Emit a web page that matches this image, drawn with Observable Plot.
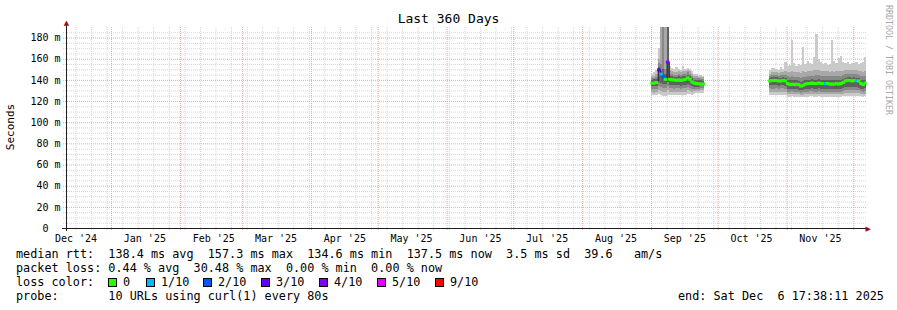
<!DOCTYPE html>
<html><head><meta charset="utf-8">
<script src="https://cdn.jsdelivr.net/npm/d3@7"></script>
<script src="https://cdn.jsdelivr.net/npm/@observablehq/plot@0.6"></script>
<style>
html,body{margin:0;padding:0;background:#fff;}
#wrap{position:relative;width:897px;height:310px;overflow:hidden;font-family:"DejaVu Sans Mono",monospace;color:#000;}
#wrap svg{position:absolute;left:0;top:0;}
.t{position:absolute;white-space:pre;line-height:14px;font-size:11.8px;}
.sw{position:absolute;width:7px;height:7px;border:1px solid #000;}
</style></head><body><div id="wrap"></div>
<script>
// ---------- texts ----------
const titleText = "Last 360 Days";
const yLabel = "Seconds";
const watermark = "RRDTOOL / TOBI OETIKER";
const legendRtt = "median rtt:  138.4 ms avg  157.3 ms max  134.6 ms min  137.5 ms now  3.5 ms sd  39.6   am/s";
const legendLoss = "packet loss: 0.44 % avg  30.48 % max  0.00 % min  0.00 % now";
const legendLossColor = "loss color:";
const legendProbe = "probe:       10 URLs using curl(1) every 80s";
const legendEnd = "end: Sat Dec  6 17:38:11 2025";
const lossLabels = ["0", "1/10", "2/10", "3/10", "4/10", "5/10", "9/10"];
const lossColors = ["#26ff00", "#00b8ff", "#0059ff", "#5e00ff", "#7e00ff", "#dd00ff", "#ff0000"];
const lossTenthsKeys = [0, 1, 2, 3, 4, 5, 9];

// ---------- axes ----------
const START = new Date(Date.UTC(2024, 11, 11, 17, 38, 11));
const END = new Date(Date.UTC(2025, 11, 6, 17, 38, 11));
const DAY = 864e5;
const monthLabels = ["Dec '24","Jan '25","Feb '25","Mar '25","Apr '25","May '25","Jun '25","Jul '25","Aug '25","Sep '25","Oct '25","Nov '25"];
const yTicks = [0, 20, 40, 60, 80, 100, 120, 140, 160, 180];

// ---------- data: one row per day (ms) ----------
const seg1Days = d3.utcDay.range(new Date(Date.UTC(2025, 8, 1)), new Date(Date.UTC(2025, 8, 25)));   // Sep 1 - Sep 24
const seg2Days = d3.utcDay.range(new Date(Date.UTC(2025, 9, 24)), new Date(Date.UTC(2025, 11, 7)));  // Oct 24 - Dec 6
const median = [
  137.3,137.5,138,150,146,143,141,157.3,141,140.5,140.5,140,140.5,140,140.5,141,142.4,141,138.5,137.5,137,136.7,136.5,136.5,
  139.5,140,140,140,139.5,139.5,140,139.5,
  137,136,136.5,136,136.5,136,134.6,135.5,136.5,137,137,137.5,137,137,137.5,137,137,137,137,136.5,136.5,136.5,137,136.5,137,138,139.5,140,140,139.5,
  140,139.5,139.5,137,136,137.5];
const lossTenths = [
  0,0,0,3,1,2,0,4,0,0,0,0,0,0,0,0,0,0,0,0,0,0,0,0,
  0,0,0,0,0,0,0,0,
  0,0,0,0,0,0,0,0,0,0,0,0,0,0,0,0,0,1,0,0,0,0,0,0,0,0,0,0,0,0,
  0,1,0,0,0,0];
const ping1 = [
  126,125.5,126,127,126,125,125,126,126,126,125.5,126,126,125.5,126,126,127,126.5,126,127,127.5,127.5,128,128,
  126,125.5,125.5,126,125.5,126,126,125.5,
  124,124,124.5,124,124,124,123.5,124,124,124,124.5,124.5,124,124,124.5,124,124,124,124,124,124,124,124,124,124,124.5,125,125,125,125,
  125,125,125,124.5,124,124.5];
const ping2 = [
  128.5,128,128.5,130,129.5,129,128.5,130,129,129,128.5,129,129,128.5,129,129,130,129.5,129,129.5,129.5,129.5,130,130,
  129,128.5,128.5,129,128.5,129,129,128.5,
  126.5,126.5,127,126.5,126.5,126.5,126,126,126.5,126.5,127,127,126.5,126.5,127,126.5,126.5,126.5,126.5,126.5,126.5,126.5,126.5,126.5,126.5,127,127.5,127.5,127.5,127.5,
  127.5,127.5,127.5,127,126.5,127];
const ping3 = [
  131,131,131.5,134,133,132.5,132,134,132,132,131.5,132,132,131.5,132,132,133,132.5,131.5,131.5,131.5,131.5,132,132,
  132,131.5,131.5,132,131.5,132,132,131.5,
  129,129,129.5,129,129,128.5,128,128.5,129,129,129.5,129.5,129,129,129.5,129,129,129,129,128.5,128.5,128.5,129,128.5,129,129.5,130,130,130,130,
  130,130,130,129.5,129,129.5];
const ping4 = [
  134,134,134.5,138,137,136.5,136,138,135.5,135,135,135,135,134.5,135,135.5,136.5,135.5,134,133.5,133.5,133.5,134,134,
  135,135,135,135,134.5,135,135,134.5,
  131.5,131,131.5,131,131,130.5,130,130.5,131,131.5,131.5,132,131.5,131.5,132,131.5,131.5,131.5,131.5,131,131,131,131.5,131,131.5,132,133,133,133,133,
  133,133,132.5,131.5,131,132];
const ping7 = [
  140,140.5,141,152,148,150,146,190,144,143.5,143,143,143.5,143,143.5,144,145,144,141.5,140,139.5,139.5,139.5,139,
  142,142.5,142.5,142.5,142,142,142.5,142,
  140,139.5,140,139.5,139.5,139,138,139,139.5,140,140,140.5,140,140,140.5,140,140,140,140,139.5,139.5,139.5,140,139.5,140,141,142,142.5,142.5,142,
  142.5,142,142,140,139.5,140];
const ping8 = [
  141.5,142,143,156,155,190,150,195,146,145.5,145,145,145.5,145,146,146,147,146,143.5,142,141.5,141.5,141,141,
  144,144.5,145,144.5,144,144.5,144.5,144.5,
  143.5,143,144,143,143,142.5,142,143,143,143.5,144,144,144,144.5,144.5,144,144,144,144,143.5,143.5,143.5,144,143.5,144,144.5,145.5,146,145.5,145.5,
  146,145.5,145,144,143.5,144];
const ping9 = [
  143.5,144,145.5,160,195,195,195,195,149,148,147.5,147,148,147,148.5,148,149,148,145.5,144,143.5,143,142.5,142.5,
  146,147,147.5,147,146.5,147,147,148,
  147.5,147,148,147.5,147,147,146.5,148,147.5,148,148.5,148,149,149,149,148.5,148,148.5,148,147.5,148,147.5,148,148,148.5,148.5,149,149.5,149,149,
  149.5,149,148.5,148,147.5,148];
const ping10 = [
  145.5,147,149,170,195,195,195,195,153,151,150,152,150,149,153,150,151,150,148,146,145.5,145,144.5,144,
  149,151,151,150,149.5,152.5,150,157,
  153,154,178,156,153,155,154,171,155,158,156,155,162,183,160,157,155,156,154,155,178,158,156,161,163,157,156,157,155,156,
  156,157,155,156,157,162];

// ---------- build rows ----------
const days = seg1Days.concat(seg2Days);
const rows = days.map((d, i) => ({
  x1: d, x2: new Date(Math.min(+d + DAY, +END)), seg: i < seg1Days.length ? 0 : 1,
  median: median[i], loss: lossTenths[i],
  p1: ping1[i], p2: ping2[i], p3: ping3[i], p4: ping4[i],
  p7: ping7[i], p8: ping8[i], p9: ping9[i], p10: ping10[i]
}));
const colorOf = t => lossColors[lossTenthsKeys.indexOf(t)];

const labelDates = d3.utcMonth.range(new Date(Date.UTC(2024, 11, 1)), new Date(Date.UTC(2025, 11, 1)))
  .map(d => new Date(+d + 15 * DAY));
const labelMap = new Map(labelDates.map((d, i) => [+d, monthLabels[i]]));
const monthStarts = d3.utcMonth.range(START, END);
const weekStarts = d3.utcMonday.range(START, END).filter(d => d.getUTCDate() !== 1);
const yMinor = d3.range(5, 190, 5).filter(v => v % 20 !== 0);
const yMajor = d3.range(20, 190, 20);

const GRID = "#d6d6d6", MGRID = "#f0a4a4";
const chart = Plot.plot({
  width: 897, height: 245,
  marginTop: 27, marginBottom: 17, marginLeft: 66, marginRight: 31,
  style: {fontFamily: "'DejaVu Sans Mono', monospace", fontSize: "10px", background: "transparent", color: "#000", overflow: "visible"},
  x: {type: "utc", domain: [START, END]},
  y: {domain: [0, 190]},
  marks: [
    Plot.ruleY(yMinor, {stroke: GRID, strokeDasharray: "1,1", insetLeft: -3}),
    Plot.ruleX(weekStarts, {stroke: GRID, strokeDasharray: "1,1", insetBottom: -3}),
    Plot.ruleY(yMajor, {stroke: MGRID, strokeDasharray: "1,1", insetLeft: -3}),
    Plot.ruleX(monthStarts, {stroke: MGRID, strokeDasharray: "1,1", insetBottom: -3}),
    Plot.rect(rows, {x1: "x1", x2: "x2", y1: "p1", y2: "p10", fill: "#cacaca", clip: true, shapeRendering: "crispEdges"}),
    Plot.rect(rows, {x1: "x1", x2: "x2", y1: "p2", y2: "p9", fill: "#a8a8a8", clip: true, shapeRendering: "crispEdges"}),
    Plot.rect(rows, {x1: "x1", x2: "x2", y1: "p3", y2: "p8", fill: "#888888", clip: true, shapeRendering: "crispEdges"}),
    Plot.rect(rows, {x1: "x1", x2: "x2", y1: "p4", y2: "p7", fill: "#606060", clip: true, shapeRendering: "crispEdges"}),
    Plot.line(rows, {x: "x1", y: "median", z: "seg", curve: "step-after", stroke: "#202020", strokeWidth: 1}),
    Plot.ruleY(rows, {x1: "x1", x2: "x2", y: "median", stroke: d => colorOf(d.loss), strokeWidth: 3, insetLeft: -0.7, insetRight: -0.7}),
    Plot.ruleX([START], {stroke: "#202020", insetTop: -4, insetBottom: -3}),
    Plot.ruleY([0], {stroke: "#202020", insetLeft: -4, insetRight: -1}),
    Plot.text([START], {x: d => d, y: () => 190, text: () => "▲", fill: "#9a1010", fontSize: 7, dy: -5, fontFamily: "DejaVu Sans"}),
    Plot.text([END], {x: d => d, y: () => 0, text: () => "▶", fill: "#9a1010", fontSize: 7, textAnchor: "start", dx: -1, fontFamily: "DejaVu Sans"}),
    Plot.axisY({ticks: yTicks, tickFormat: d => d === 0 ? "0\u00a0\u00a0" : d + " m", tickSize: 0, tickPadding: 6, label: null, fill: "#000"}),
    Plot.axisX({ticks: labelDates, tickFormat: d => labelMap.get(+d), tickSize: 0, tickPadding: 6, label: null, fill: "#000"})
  ]
});

const wrap = document.getElementById("wrap");
wrap.appendChild(chart);

function addText(txt, left, top, extra) {
  const s = document.createElement("div");
  s.className = "t";
  s.textContent = txt;
  s.style.left = left + "px";
  s.style.top = top + "px";
  if (extra) Object.assign(s.style, extra);
  wrap.appendChild(s);
  return s;
}
// title
addText(titleText, 0, 11, {width: "897px", textAlign: "center", fontSize: "13px", lineHeight: "16px"});
// y label
addText(yLabel, 11, 127, {fontSize: "11px", lineHeight: "12px", transform: "translate(-50%,-50%) rotate(-90deg)"});
// watermark
addText(watermark, 884, 5, {fontSize: "8.3px", lineHeight: "9px", writingMode: "vertical-rl", color: "#a8a8a8"});
// legend
addText(legendRtt, 16, 247);
addText(legendLoss, 16, 261);
addText(legendLossColor, 16, 275);
const swX = [108, 146, 203, 261, 319, 377, 435];
lossLabels.forEach((lab, i) => {
  const b = document.createElement("div");
  b.className = "sw";
  b.style.left = swX[i] + "px";
  b.style.top = "278px";
  b.style.background = lossColors[i];
  wrap.appendChild(b);
  addText(lab, swX[i] + 15, 275);
});
addText(legendProbe, 16, 289);
addText(legendEnd, 678, 289);
</script>
</body></html>
